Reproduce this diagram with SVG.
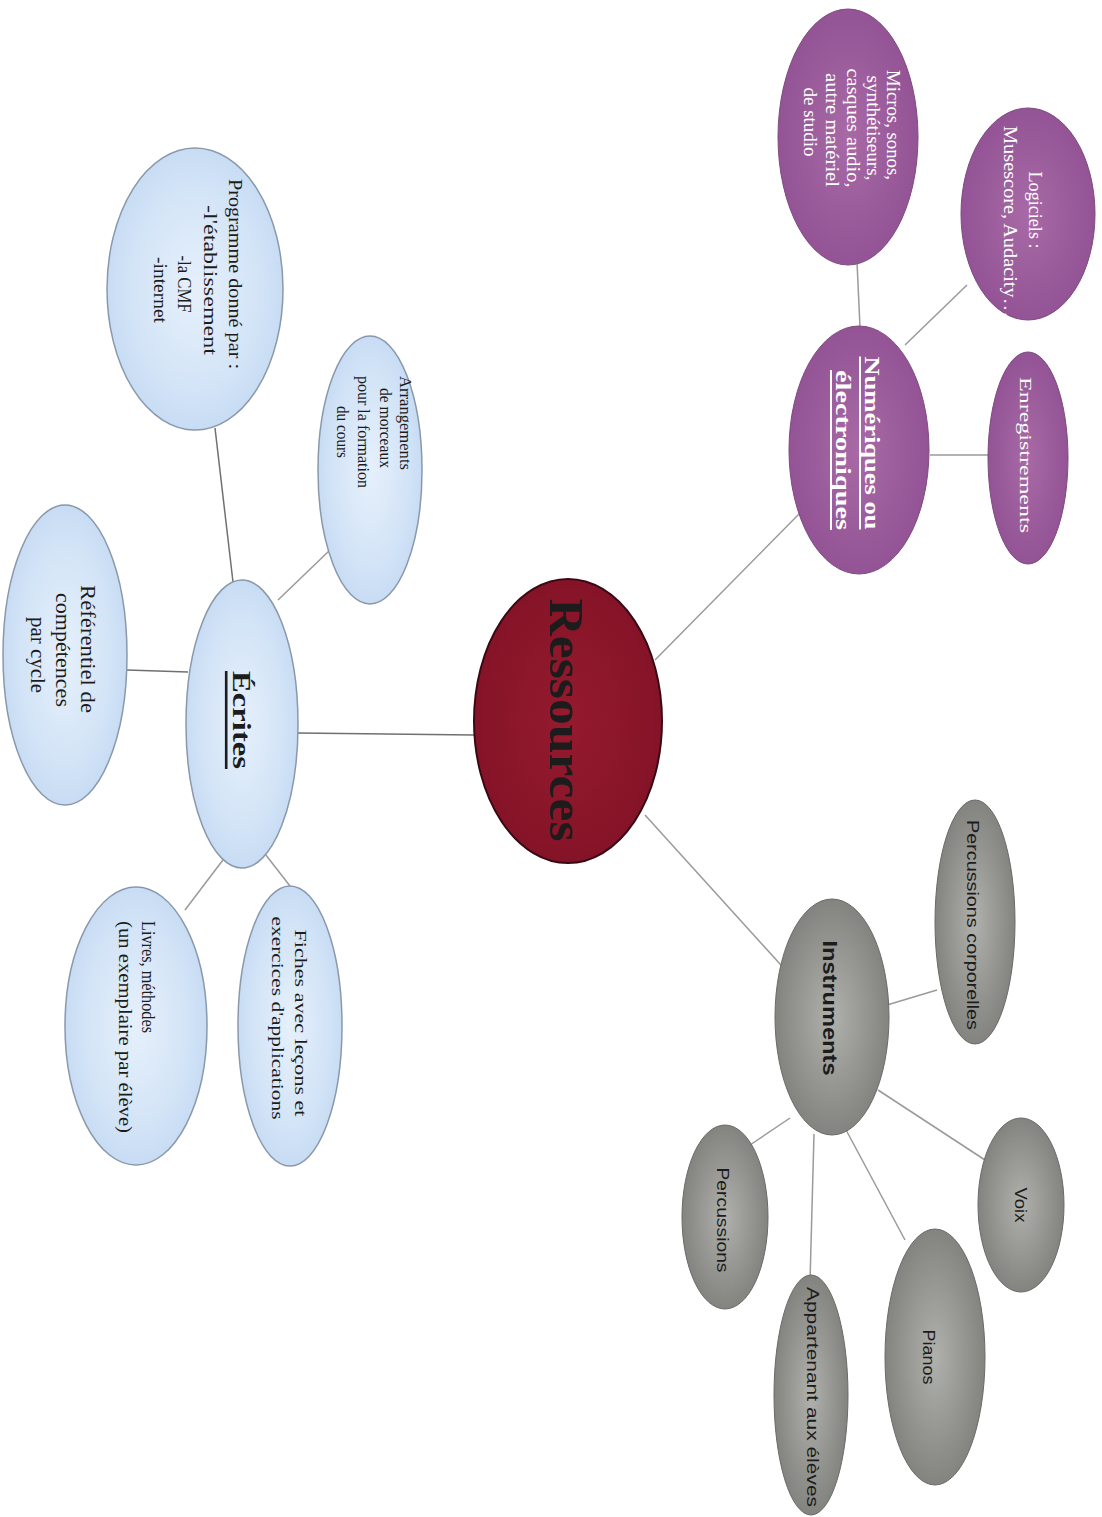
<svg xmlns="http://www.w3.org/2000/svg" width="1102" height="1517" viewBox="0 0 1102 1517">
<defs>
<radialGradient id="gBlue" cx="50%" cy="50%" r="60%">
<stop offset="0" stop-color="#e6f0fb"/><stop offset="0.6" stop-color="#d3e4f7"/><stop offset="1" stop-color="#bfd6f1"/>
</radialGradient>
<radialGradient id="gPurple" cx="50%" cy="50%" r="60%">
<stop offset="0" stop-color="#a86aa6"/><stop offset="1" stop-color="#8f4f92"/>
</radialGradient>
<radialGradient id="gGray" cx="50%" cy="50%" r="60%">
<stop offset="0" stop-color="#b0b0ac"/><stop offset="1" stop-color="#7a7a77"/>
</radialGradient>
<radialGradient id="gRed" cx="50%" cy="50%" r="60%">
<stop offset="0" stop-color="#951a2e"/><stop offset="1" stop-color="#821226"/>
</radialGradient>
</defs>
<style>
.blue{fill:url(#gBlue);stroke:#8a98ab;stroke-width:1.5}
.purple{fill:url(#gPurple);stroke:#7d4a80;stroke-width:1}
.gray{fill:url(#gGray);stroke:#6a6a68;stroke-width:1}
.red{fill:url(#gRed);stroke:#3a0a14;stroke-width:2}
.t{font-family:"Liberation Serif","Times New Roman",serif;text-anchor:middle;dominant-baseline:central;fill:#1c1c1c}
.st{text-anchor:start}
.w{fill:#ffffff}
.s{font-family:"Liberation Sans",Arial,sans-serif}
.b{font-weight:bold}
.u{text-decoration:underline}
.lines line{stroke:#9a9a9a;stroke-width:1.5}
.lines line.dk{stroke:#707070}
</style>
<rect width="1102" height="1517" fill="#ffffff"/>
<g id="connectors" class="lines">
<line class="dk" x1="298" y1="733" x2="474" y2="735"/>
<line class="dk" x1="127" y1="670" x2="188" y2="672"/>
<line class="dk" x1="233" y1="582" x2="215" y2="428"/>
<line x1="278" y1="600" x2="330" y2="550"/>
<line x1="262" y1="850" x2="290" y2="886"/>
<line x1="232" y1="848" x2="185" y2="910"/>
<line x1="655" y1="660" x2="800" y2="513"/>
<line x1="857" y1="262" x2="860" y2="327"/>
<line x1="905" y1="345" x2="967" y2="285"/>
<line x1="930" y1="455" x2="990" y2="455"/>
<line x1="645" y1="815" x2="790" y2="975"/>
<line x1="887" y1="1005" x2="937" y2="990"/>
<line x1="878" y1="1090" x2="985" y2="1160"/>
<line x1="845" y1="1128" x2="905" y2="1240"/>
<line x1="814" y1="1134" x2="810" y2="1282"/>
<line x1="790" y1="1118" x2="750" y2="1145"/>
</g>
<g id="ressources">
<ellipse class="red" cx="568" cy="721" rx="94" ry="142"/>
<text class="t b" font-size="48" textLength="243" lengthAdjust="spacingAndGlyphs" transform="translate(566,720) rotate(90)">Ressources</text>
</g>
<g id="ecrites">
<ellipse class="blue" cx="242" cy="724" rx="56" ry="144"/>
<text class="t b u" font-size="26" textLength="98" lengthAdjust="spacingAndGlyphs" transform="translate(241,720) rotate(90)">Écrites</text>
</g>
<g id="referentiel">
<ellipse class="blue" cx="65" cy="655" rx="62" ry="150"/>
<text class="t" font-size="20" textLength="128" lengthAdjust="spacingAndGlyphs" transform="translate(88,649) rotate(90)">Référentiel de</text>
<text class="t" font-size="20" textLength="114" lengthAdjust="spacingAndGlyphs" transform="translate(63,650) rotate(90)">compétences</text>
<text class="t" font-size="20" textLength="76" lengthAdjust="spacingAndGlyphs" transform="translate(38,655) rotate(90)">par cycle</text>
</g>
<g id="programme">
<ellipse class="blue" cx="195" cy="289" rx="88" ry="141"/>
<text class="t" font-size="18" textLength="190" lengthAdjust="spacingAndGlyphs" transform="translate(235,274) rotate(90)">Programme donné par :</text>
<text class="t" font-size="18" textLength="150" lengthAdjust="spacingAndGlyphs" transform="translate(210,280) rotate(90)">-l'établissement</text>
<text class="t" font-size="18" textLength="57" lengthAdjust="spacingAndGlyphs" transform="translate(184,284) rotate(90)">-la CMF</text>
<text class="t" font-size="18" textLength="66" lengthAdjust="spacingAndGlyphs" transform="translate(160,290) rotate(90)">-internet</text>
</g>
<g id="arrangements">
<ellipse class="blue" cx="370" cy="470" rx="52" ry="134"/>
<text class="t" font-size="17" textLength="94" lengthAdjust="spacingAndGlyphs" transform="translate(405,423) rotate(90)">Arrangements</text>
<text class="t" font-size="17" textLength="80" lengthAdjust="spacingAndGlyphs" transform="translate(385,428) rotate(90)">de morceaux</text>
<text class="t" font-size="17" textLength="112" lengthAdjust="spacingAndGlyphs" transform="translate(363,432) rotate(90)">pour la formation</text>
<text class="t" font-size="17" textLength="52" lengthAdjust="spacingAndGlyphs" transform="translate(342,432) rotate(90)">du cours</text>
</g>
<g id="fiches">
<ellipse class="blue" cx="290" cy="1026" rx="52" ry="140"/>
<text class="t" font-size="16" textLength="187" lengthAdjust="spacingAndGlyphs" transform="translate(300,1023) rotate(90)">Fiches avec leçons et</text>
<text class="t" font-size="16" textLength="203" lengthAdjust="spacingAndGlyphs" transform="translate(277,1018) rotate(90)">exercices d'applications</text>
</g>
<g id="livres">
<ellipse class="blue" cx="136" cy="1026" rx="71" ry="139"/>
<text class="t st" font-size="18" textLength="112" lengthAdjust="spacingAndGlyphs" transform="translate(148,921) rotate(90)">Livres, méthodes</text>
<text class="t st" font-size="18" textLength="212" lengthAdjust="spacingAndGlyphs" transform="translate(125,921) rotate(90)">(un exemplaire par élève)</text>
</g>
<g id="numeriques">
<ellipse class="purple" cx="859" cy="450" rx="70" ry="124"/>
<text class="t w b u" font-size="20" textLength="173" lengthAdjust="spacingAndGlyphs" transform="translate(872,443) rotate(90)">Numériques ou</text>
<text class="t w b u" font-size="20" textLength="160" lengthAdjust="spacingAndGlyphs" transform="translate(843,450) rotate(90)">électroniques</text>
</g>
<g id="micros">
<ellipse class="purple" cx="848" cy="137" rx="70" ry="128"/>
<text class="t w" font-size="18" textLength="110" lengthAdjust="spacingAndGlyphs" transform="translate(893,125) rotate(90)">Micros, sonos,</text>
<text class="t w" font-size="18" textLength="105" lengthAdjust="spacingAndGlyphs" transform="translate(873,128) rotate(90)">synthétiseurs,</text>
<text class="t w" font-size="18" textLength="119" lengthAdjust="spacingAndGlyphs" transform="translate(853,128) rotate(90)">casques audio,</text>
<text class="t w" font-size="18" textLength="114" lengthAdjust="spacingAndGlyphs" transform="translate(832,130) rotate(90)">autre matériel</text>
<text class="t w" font-size="18" textLength="69" lengthAdjust="spacingAndGlyphs" transform="translate(810,122) rotate(90)">de studio</text>
</g>
<g id="logiciels">
<ellipse class="purple" cx="1028" cy="214" rx="67" ry="106"/>
<text class="t w" font-size="18" textLength="77" lengthAdjust="spacingAndGlyphs" transform="translate(1035,210) rotate(90)">Logiciels :</text>
<text class="t w" font-size="18" textLength="192" lengthAdjust="spacingAndGlyphs" transform="translate(1010,222) rotate(90)">Musescore, Audacity…</text>
</g>
<g id="enregistrements">
<ellipse class="purple" cx="1028" cy="458" rx="40" ry="106"/>
<text class="t w" font-size="17" textLength="156" lengthAdjust="spacingAndGlyphs" transform="translate(1025,455) rotate(90)">Enregistrements</text>
</g>
<g id="instruments">
<ellipse class="gray" cx="832" cy="1017" rx="57" ry="118"/>
<text class="t s b" font-size="20" textLength="135" lengthAdjust="spacingAndGlyphs" transform="translate(830,1008) rotate(90)">Instruments</text>
</g>
<g id="percussions-corporelles">
<ellipse class="gray" cx="975" cy="922" rx="40" ry="122"/>
<text class="t s" font-size="16" textLength="210" lengthAdjust="spacingAndGlyphs" transform="translate(972,925) rotate(90)">Percussions corporelles</text>
</g>
<g id="voix">
<ellipse class="gray" cx="1021" cy="1205" rx="43" ry="87"/>
<text class="t s" font-size="16" textLength="35" lengthAdjust="spacingAndGlyphs" transform="translate(1020,1205) rotate(90)">Voix</text>
</g>
<g id="pianos">
<ellipse class="gray" cx="935" cy="1357" rx="50" ry="128"/>
<text class="t s" font-size="16" textLength="55" lengthAdjust="spacingAndGlyphs" transform="translate(928,1357) rotate(90)">Pianos</text>
</g>
<g id="appartenant">
<ellipse class="gray" cx="811" cy="1395" rx="37" ry="120"/>
<text class="t s" font-size="16" textLength="220" lengthAdjust="spacingAndGlyphs" transform="translate(812,1397) rotate(90)">Appartenant aux élèves</text>
</g>
<g id="percussions">
<ellipse class="gray" cx="725" cy="1217" rx="43" ry="92"/>
<text class="t s" font-size="16" textLength="105" lengthAdjust="spacingAndGlyphs" transform="translate(722,1220) rotate(90)">Percussions</text>
</g>
</svg>
